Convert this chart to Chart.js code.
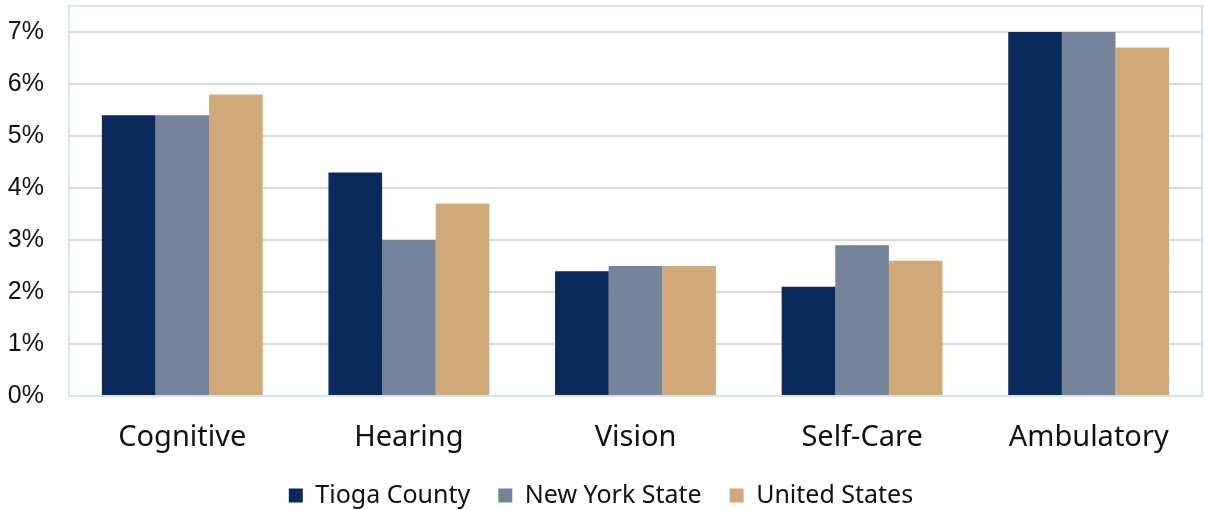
<!DOCTYPE html>
<html>
<head>
<meta charset="utf-8">
<script src="https://cdn.jsdelivr.net/npm/chart.js@4/dist/chart.umd.min.js"></script>
<style>
  html, body { margin: 0; padding: 0; background: #fff; }
  #wrap { width: 1205px; height: 510px; }
</style>
</head>
<body>
<div id="wrap"><canvas id="chart"></canvas></div>
<script>
// data
const categories = ["Cognitive", "Hearing", "Vision", "Self-Care", "Ambulatory"];
const tioga = [5.4, 4.3, 2.4, 2.1, 7.0];
const newYork = [5.4, 3.0, 2.5, 2.9, 7.0];
const unitedStates = [5.8, 3.7, 2.5, 2.6, 6.7];
const yTicks = [0, 1, 2, 3, 4, 5, 6, 7];

// light blue frame round the plot area
const plotFrame = {
  id: "plotFrame",
  afterDraw(chart) {
    const { ctx, chartArea: a } = chart;
    ctx.save();
    ctx.strokeStyle = "#d6e3f7";
    ctx.lineWidth = 2;
    ctx.strokeRect(a.left, a.top, a.right - a.left, a.bottom - a.top);
    ctx.restore();
  },
};

// legend takes less height than its padding would give
const legendHeight = {
  id: "legendHeight",
  beforeInit(chart) {
    const fit = chart.legend.fit;
    chart.legend.fit = function () {
      fit.call(this);
      this.height = 55;
    };
  },
};

new Chart(document.getElementById("chart"), {
  type: "bar",
  data: {
    labels: categories,
    datasets: [
      { label: "Tioga County", data: tioga, backgroundColor: "#0a2a5c" },
      { label: "New York State", data: newYork, backgroundColor: "#768499" },
      { label: "United States", data: unitedStates, backgroundColor: "#cfaa78" },
    ],
  },
  options: {
    responsive: true,
    maintainAspectRatio: false,
    animation: false,
    layout: { padding: { left: 0, right: 3, top: 6, bottom: 0 } },
    datasets: { bar: { categoryPercentage: 0.71, barPercentage: 1 } },
    scales: {
      x: {
        grid: { display: false },
        border: { color: "#c9d3e3", width: 2 },
        afterFit(scale) { scale.height = 59; },
        ticks: {
          color: "#111",
          padding: 16,
          font: { family: "Noto Sans", size: 29 },
        },
      },
      y: {
        min: 0,
        max: 7.5,
        afterBuildTicks(axis) {
          axis.ticks = yTicks.map((v) => ({ value: v }));
        },
        afterFit(scale) {
          scale.width = 69;
          scale.paddingTop = 0;
          scale.paddingBottom = 0;
        },
        grid: { color: "#d9d9d9", lineWidth: 2, drawTicks: false },
        border: { display: false },
        ticks: {
          padding: 25,
          color: "#111",
          font: { family: "Liberation Sans", size: 25 },
          callback: (v) => v + "%",
        },
      },
    },
    plugins: {
      legend: {
        position: "bottom",
        labels: {
          color: "#111",
          boxWidth: 14,
          boxHeight: 14,
          padding: 28,
          font: { family: "Noto Sans", size: 25 },
        },
      },
      tooltip: { enabled: false },
    },
  },
  plugins: [plotFrame, legendHeight],
});
</script>
</body>
</html>
